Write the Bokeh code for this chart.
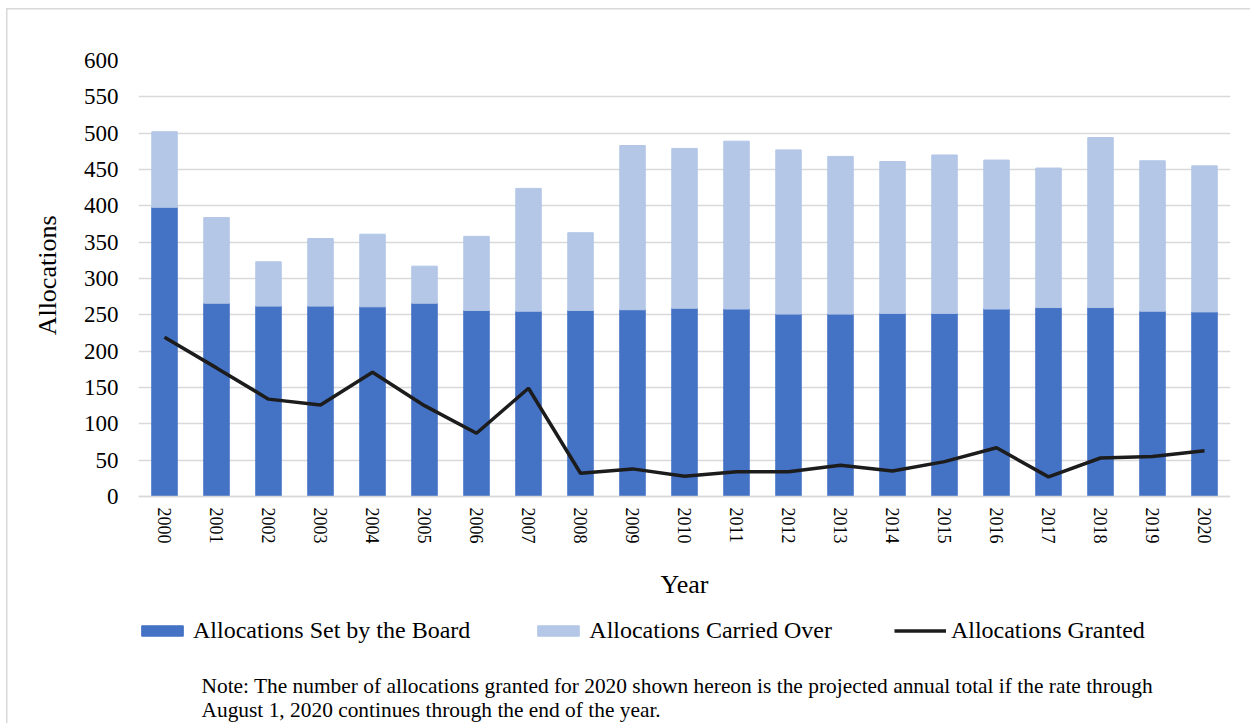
import math
from bokeh.plotting import figure
from bokeh.models import (FactorRange, Range1d, FixedTicker, Legend, LegendItem,
                          Label, Title, CategoricalAxis, ColumnDataSource)
from bokeh.embed import file_html
from bokeh.resources import INLINE

years = ["2000", "2001", "2002", "2003", "2004", "2005", "2006", "2007", "2008", "2009",
         "2010", "2011", "2012", "2013", "2014", "2015", "2016", "2017", "2018", "2019", "2020"]
set_by_board = [398, 266, 262, 262, 261, 266, 256, 255, 256, 257,
                259, 258, 251, 251, 252, 252, 258, 260, 260, 255, 254]
carried_over = [104, 118, 61, 93, 100, 51, 102, 169, 107, 226,
                220, 231, 226, 217, 209, 218, 205, 192, 234, 207, 201]
granted = [219, 177, 134, 126, 171, 125, 87, 149, 32, 38,
           28, 34, 34, 43, 35, 48, 67, 27, 53, 55, 63]
y_ticks = [0, 50, 100, 150, 200, 250, 300, 350, 400, 450, 500, 550, 600]

note_line1 = ("Note: The number of allocations granted for 2020 shown hereon is the "
              "projected annual total if the rate through")
note_line2 = "August 1, 2020 continues through the end of the year."

FONT = "Liberation Serif"

# layout geometry (pixels)
W, H = 1250, 723
TOP, LEFT, RIGHT = 60, 138, 20
PLOT_H = 436            # pixel height of the 0..600 span
Y_MAX = 600
y_start = Y_MAX - (H - TOP) * Y_MAX / PLOT_H   # frame extends below zero

src = ColumnDataSource(dict(year=years, board=set_by_board,
                            carried=carried_over, granted=granted))

p = figure(x_range=FactorRange(*years, range_padding=0), y_range=Range1d(y_start, Y_MAX),
           width=W, height=H, output_backend="svg", toolbar_location=None,
           x_axis_location=None,
           min_border_left=LEFT, min_border_right=RIGHT, min_border_top=TOP,
           min_border_bottom=0)
p.outline_line_color = None
p.border_fill_alpha = 0
p.styles = {
    "background-image": "linear-gradient(#d9d9d9,#d9d9d9), linear-gradient(#d9d9d9,#d9d9d9)",
    "background-size": "1.5px 800px, 1400px 1.5px",
    "background-position": "6px 7.5px, 6px 7.5px",
    "background-repeat": "no-repeat",
}

bars = p.vbar_stack(["board", "carried"], x="year", width=0.49,
                    color=["#4472C4", "#B4C7E7"], source=src)
ln = p.line(x="year", y="granted", source=src, line_color="#1c1c1c", line_width=3.5)

# grid
p.xgrid.grid_line_color = None
p.ygrid.grid_line_color = "#d9d9d9"
p.ygrid.grid_line_width = 1.5
p.ygrid.ticker = FixedTicker(ticks=y_ticks)

# x axis pinned at y = 0
xa = CategoricalAxis(fixed_location=0)
xa.axis_line_color = "#d9d9d9"
xa.axis_line_width = 1.5
xa.major_tick_line_color = None
xa.minor_tick_line_color = None
xa.major_label_orientation = -math.pi / 2
xa.major_label_standoff = 5
xa.major_label_text_font = FONT
xa.major_label_text_font_size = "18px"
xa.major_label_text_color = "#000000"
xa.axis_label = "Year"
xa.axis_label_text_font = FONT
xa.axis_label_text_font_size = "26px"
xa.axis_label_text_font_style = "normal"
xa.axis_label_text_color = "#000000"
xa.axis_label_standoff = 23
p.add_layout(xa, "below")

ya = p.yaxis[0]
ya.ticker = FixedTicker(ticks=y_ticks)
ya.axis_line_color = None
ya.major_tick_line_color = None
ya.minor_tick_line_color = None
ya.major_label_standoff = 14
ya.major_label_text_font = FONT
ya.major_label_text_font_size = "23px"
ya.major_label_text_color = "#000000"

p.add_layout(Title(text="Allocations", align="right", offset=155,
                   text_font=FONT, text_font_size="26px", text_font_style="normal",
                   text_color="#000000", standoff=38), "left")

legend = Legend(items=[
    LegendItem(label="Allocations Set by the Board", renderers=[bars[0]]),
    LegendItem(label="Allocations Carried Over", renderers=[bars[1]]),
    LegendItem(label="Allocations Granted", renderers=[ln]),
], orientation="horizontal", location=(-2, 79), glyph_width=52, glyph_height=13,
    label_standoff=5, spacing=62, padding=0, margin=0, border_line_color=None,
    background_fill_alpha=0, label_text_font=FONT, label_text_font_size="24px",
    label_text_color="#000000")
p.add_layout(legend)

for txt, yy in ((note_line1, H - 685), (note_line2, H - 709)):
    p.add_layout(Label(x=63, y=yy, x_units="screen", y_units="screen", text=txt,
                       text_font=FONT, text_font_size="21.4px", text_color="#000000",
                       text_baseline="alphabetic"))

open("out.html", "w").write(file_html(p, INLINE))
